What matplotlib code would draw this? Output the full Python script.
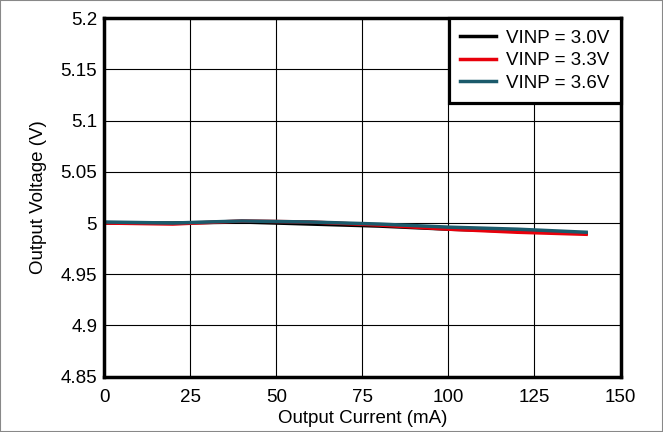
import matplotlib
matplotlib.use("Agg")
import matplotlib.pyplot as plt

plt.rcParams['font.family'] = ['Liberation Sans', 'DejaVu Sans']

#-----------------------------------------------------------------
current = [0, 20, 40, 60, 80, 100, 120, 140]
v_30 = [5.000, 5.000, 5.001, 4.999, 4.997, 4.994, 4.992, 4.990]
v_33 = [5.000, 4.999, 5.002, 5.001, 4.998, 4.994, 4.991, 4.989]
v_36 = [5.001, 5.000, 5.002, 5.001, 4.999, 4.996, 4.994, 4.991]
labels = ["VINP = 3.0V", "VINP = 3.3V", "VINP = 3.6V"]
colors = ["#000000", "#e8000b", "#1b5a6b"]
xticks = [0, 25, 50, 75, 100, 125, 150]
yticks = [4.85, 4.9, 4.95, 5, 5.05, 5.1, 5.15, 5.2]
ytick_labels = ["4.85", "4.9", "4.95", "5", "5.05", "5.1", "5.15", "5.2"]
#-----------------------------------------------------------------

fig = plt.figure(figsize=(6.63, 4.32), dpi=100)
ax = fig.add_axes([0.157, 0.128, 0.779, 0.83])

for y, lab, c in zip([v_30, v_33, v_36], labels, colors):
    ax.plot(current, y, color=c, lw=2.5, label=lab)

ax.set_xlim(0, 150)
ax.set_ylim(4.85, 5.2)
ax.set_xticks(xticks)
ax.set_yticks(yticks)
ax.set_yticklabels(ytick_labels)
ax.grid(True, color="black", lw=0.8)
ax.tick_params(axis="x", length=0, labelsize=13.5, pad=9)
ax.tick_params(axis="y", length=0, labelsize=13.5, pad=5)
for s in ax.spines.values():
    s.set_linewidth(2.5)
ax.set_xlabel("Output Current (mA)", fontsize=13.5, labelpad=3)
ax.set_ylabel("Output Voltage (V)", fontsize=13.5, labelpad=10)

leg = ax.legend(loc="upper right", borderaxespad=0, fontsize=13.5, fancybox=False,
                framealpha=1, edgecolor="black", handlelength=1.9, handletextpad=0.55,
                labelspacing=0.3, borderpad=0.6)
leg.get_frame().set_linewidth(2.3)

fig.patches.append(plt.Rectangle((0, 0), 1, 1, transform=fig.transFigure, fill=False,
                                 edgecolor="#888888", lw=1.5))

fig.savefig("out.png", dpi=100)
